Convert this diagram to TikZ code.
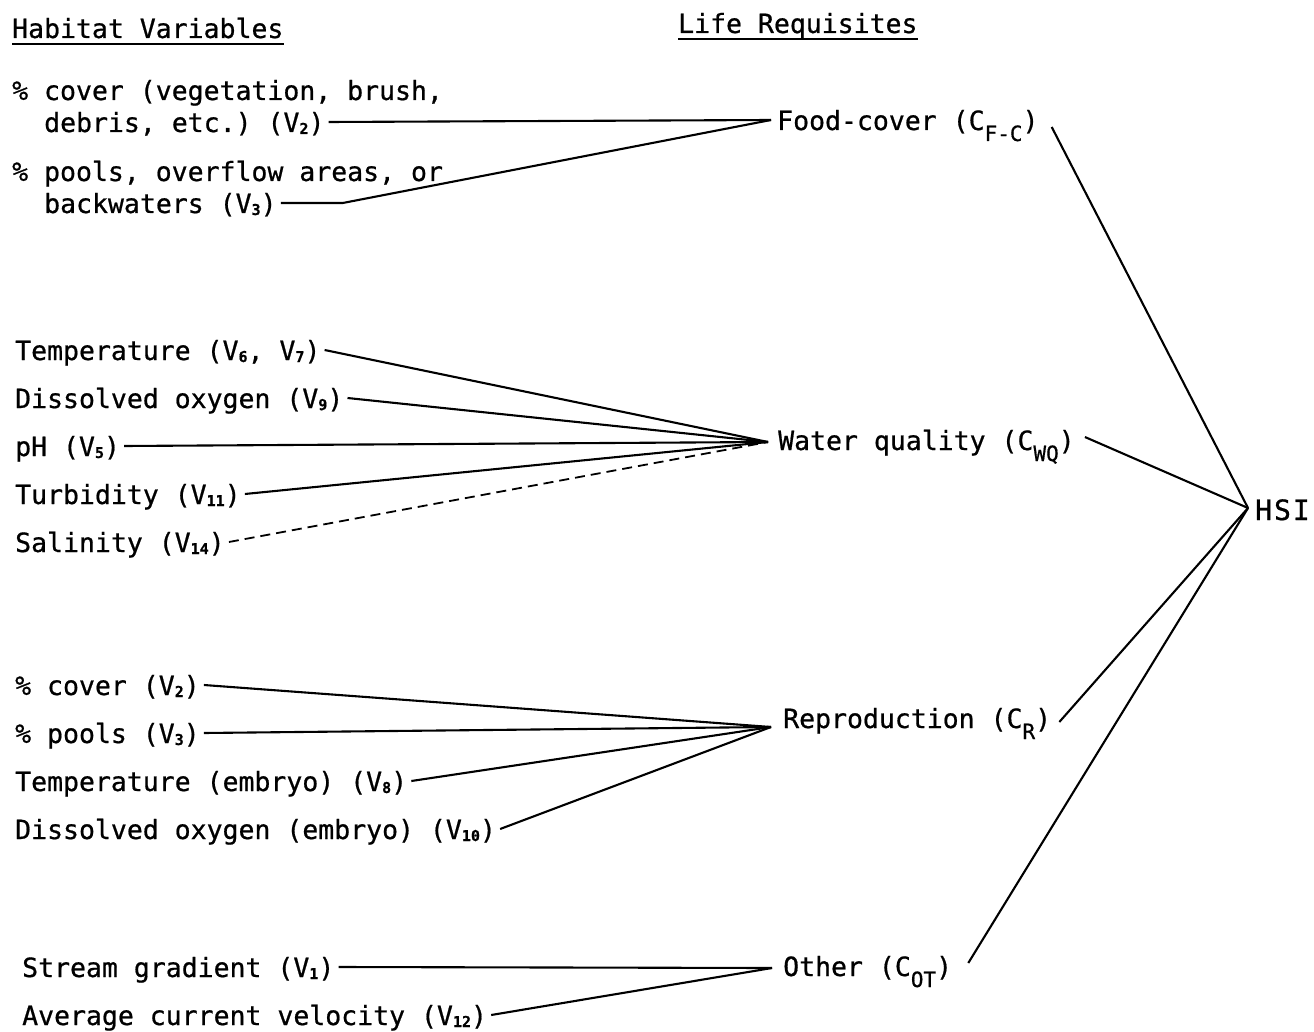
\documentclass[tikz,border=0pt]{standalone}
\usepackage{fontspec}
\setmonofont[FakeBold=0.7]{DejaVu Sans Mono}
\newcommand{\vsub}[1]{\raisebox{-2pt}{\fontsize{15}{15}\selectfont\bfseries #1}}
\newcommand{\csub}[1]{\raisebox{-11pt}{\fontsize{21}{21}\selectfont #1}}
\begin{document}
\begin{tikzpicture}[x=1pt,y=-1pt,
  lbl/.style={anchor=base west, inner xsep=4pt, inner ysep=0pt,
    text height=20pt, text depth=0pt, font=\fontsize{26.5}{26.5}\ttfamily},
  conn/.style={line width=2.1pt},
  dconn/.style={conn, line width=1.8pt, dash pattern=on 10pt off 6pt},
  ul/.style={line width=2pt}]
\useasboundingbox (0,0) rectangle (1314,1032);

% headers
\node[lbl] (hv) at (8,38) {Habitat Variables};
\node[lbl] (lr) at (674,33) {Life Requisites};
\draw[ul] ([xshift=4pt,yshift=-6pt]hv.base west) -- ([xshift=-4pt,yshift=-6pt]hv.base east);
\draw[ul] ([xshift=4pt,yshift=-6pt]lr.base west) -- ([xshift=-4pt,yshift=-6pt]lr.base east);

% food-cover group
\node[lbl] (a1) at (8,100) {\% cover (vegetation, brush,};
\node[lbl] (a2) at (40,132) {debris, etc.) (V\vsub{2})};
\node[lbl] (a3) at (8,181) {\% pools, overflow areas, or};
\node[lbl] (a4) at (40,213) {backwaters (V\vsub{3})};
\node[lbl] (fc) at (773,130) {Food-cover (C\csub{F-C})};
\coordinate (jfc) at (771,120);
\draw[conn] (a2.east) -- (jfc);
\draw[conn] (a4.east) -- ++(62,0) -- (jfc);

% water quality group
\node[lbl] (b1) at (11,360) {Temperature (V\vsub{6}, V\vsub{7})};
\node[lbl] (b2) at (11,408) {Dissolved oxygen (V\vsub{9})};
\node[lbl] (b3) at (11,456) {pH (V\vsub{5})};
\node[lbl] (b4) at (11,504) {Turbidity (V\vsub{11})};
\node[lbl] (b5) at (11,552) {Salinity (V\vsub{14})};
\node[lbl] (wq) at (774,450) {Water quality (C\csub{WQ})};
\coordinate (jwq) at (768,442);
\draw[conn] (b1.east) -- (jwq);
\draw[conn] (b2.east) -- (jwq);
\draw[conn] (b3.east) -- (jwq);
\draw[conn] (b4.east) -- (jwq);
\draw[dconn] (b5.east) -- (jwq);

% reproduction group
\node[lbl] (c1) at (11,695) {\% cover (V\vsub{2})};
\node[lbl] (c2) at (11,743) {\% pools (V\vsub{3})};
\node[lbl] (c3) at (11,791) {Temperature (embryo) (V\vsub{8})};
\node[lbl] (c4) at (11,839) {Dissolved oxygen (embryo) (V\vsub{10})};
\node[lbl] (rp) at (779,728) {Reproduction (C\csub{R})};
\coordinate (jrp) at (771,727);
\draw[conn] (c1.east) -- (jrp);
\draw[conn] (c2.east) -- (jrp);
\draw[conn] (c3.east) -- (jrp);
\draw[conn] (c4.east) -- (jrp);

% other group
\node[lbl] (d1) at (18,977) {Stream gradient (V\vsub{1})};
\node[lbl] (d2) at (18,1025) {Average current velocity (V\vsub{12})};
\node[lbl] (ot) at (779,976) {Other (C\csub{OT})};
\coordinate (jot) at (772,968);
\draw[conn] (d1.east) -- (jot);
\draw[conn] (d2.east) -- (jot);

% HSI
\node[lbl, font=\fontsize{28}{28}\ttfamily] (hsi) at (1251,520) {H\kern2pt S\kern2pt I};
\coordinate (jh) at (1248,508);
\coordinate (fco) at ([shift={(9,-3)}]fc.base east);
\coordinate (wqo) at ([shift={(6,-13)}]wq.base east);
\coordinate (rpo) at ([shift={(4,-6)}]rp.base east);
\coordinate (oto) at ([shift={(12,-13)}]ot.base east);
\draw[conn] (fco) -- (jh);
\draw[conn] (wqo) -- (jh);
\draw[conn] (rpo) -- (jh);
\draw[conn] (oto) -- (jh);
\end{tikzpicture}
\end{document}
